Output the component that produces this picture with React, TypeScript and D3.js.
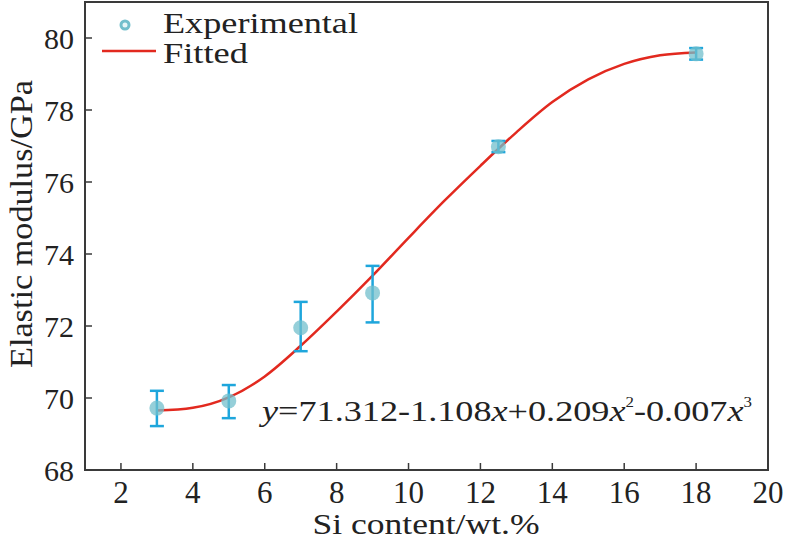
import React from "react";
import * as d3 from "d3";

// experimental points (Si wt.% -> modulus, with error bar ends)
const siContent = [3, 5, 7, 9, 12.5, 18];
const modulus = [69.72, 69.92, 71.95, 72.92, 76.98, 79.56];
const errLow = [69.22, 69.44, 71.3, 72.1, 76.83, 79.4];
const errHigh = [70.2, 70.36, 72.67, 73.67, 77.14, 79.72];

// fitted curve
const fitX = [3, 4, 5, 6, 7, 8, 9, 10, 11, 12, 13, 14, 15, 16, 17, 18];
const fitY = [69.65, 69.73, 70.02, 70.6, 71.45, 72.4, 73.4, 74.45, 75.48, 76.45, 77.38, 78.22, 78.85, 79.28, 79.52, 79.6];

const xTicks = [2, 4, 6, 8, 10, 12, 14, 16, 18, 20];
const yTicks = [68, 70, 72, 74, 76, 78, 80];

const W = 785;
const H = 541;
const left = 85;
const right = 768;
const top = 2;
const bottom = 470;

const font = "Liberation Serif";
const axisColor = "#3a3a3a";
const barColor = "#1ea6dc";
const pointColor = "#72bfcc";
const lineColor = "#e2291f";
const textColor = "#222";

export default function App() {
  const x = d3.scaleLinear().domain([1, 20]).range([left, right]);
  const y = d3.scaleLinear().domain([68, 81]).range([bottom, top]);

  const fitted = fitX.map((v, i) => ({ x: v, y: fitY[i] }));
  const line = d3
    .line<{ x: number; y: number }>()
    .x((d) => x(d.x))
    .y((d) => y(d.y))
    .curve(d3.curveMonotoneX);

  const cap = 7;
  const ts = { fontFamily: font };

  return (
    <svg
      width={W}
      height={H}
      style={{ position: "absolute", left: 0, top: 0, background: "#fff", fontFamily: font }}
    >
      {/* fitted line */}
      <path d={line(fitted) || ""} fill="none" stroke={lineColor} strokeWidth={2.5} />

      {/* error bars */}
      {siContent.map((s, i) => (
        <g key={"e" + i} stroke={barColor} strokeWidth={2.5}>
          <line x1={x(s)} x2={x(s)} y1={y(errLow[i])} y2={y(errHigh[i])} />
          <line x1={x(s) - cap} x2={x(s) + cap} y1={y(errLow[i])} y2={y(errLow[i])} />
          <line x1={x(s) - cap} x2={x(s) + cap} y1={y(errHigh[i])} y2={y(errHigh[i])} />
        </g>
      ))}

      {/* points */}
      {siContent.map((s, i) => (
        <circle key={"p" + i} cx={x(s)} cy={y(modulus[i])} r={7.5} fill={pointColor} opacity={0.75} />
      ))}

      {/* frame */}
      <rect x={left} y={top} width={right - left} height={bottom - top} fill="none" stroke={axisColor} strokeWidth={2} />

      {/* x axis */}
      {xTicks.map((t) => (
        <g key={"xt" + t}>
          <line x1={x(t)} x2={x(t)} y1={bottom} y2={bottom - 7} stroke={axisColor} strokeWidth={1.5} />
          <text x={x(t)} y={503} fontSize={31} textAnchor="middle" fill={textColor} style={ts}>
            {t}
          </text>
        </g>
      ))}

      {/* y axis */}
      {yTicks.map((t) => (
        <g key={"yt" + t}>
          <line x1={left} x2={left + 7} y1={y(t)} y2={y(t)} stroke={axisColor} strokeWidth={1.5} />
          <text x={74} y={y(t)} dy="0.35em" fontSize={30} textAnchor="end" fill={textColor} style={ts}>
            {t}
          </text>
        </g>
      ))}

      {/* axis titles */}
      <text x={426} y={534} fontSize={29} textAnchor="middle" fill={textColor} style={ts} textLength={227} lengthAdjust="spacingAndGlyphs">
        Si content/wt.%
      </text>
      <text
        transform="translate(32,224) rotate(-90)"
        fontSize={31}
        textAnchor="middle"
        fill={textColor}
        style={ts}
        textLength={288}
        lengthAdjust="spacingAndGlyphs"
      >
        Elastic modulus/GPa
      </text>

      {/* legend */}
      <circle cx={125} cy={25} r={4} fill="#e6f6f8" stroke={pointColor} strokeWidth={3} />
      <text x={163} y={33} fontSize={30} fill={textColor} style={ts} textLength={195} lengthAdjust="spacingAndGlyphs">
        Experimental
      </text>
      <line x1={102} x2={156} y1={51} y2={51} stroke={lineColor} strokeWidth={2.5} />
      <text x={163} y={63} fontSize={30} fill={textColor} style={ts} textLength={85} lengthAdjust="spacingAndGlyphs">
        Fitted
      </text>

      {/* equation */}
      <text x={262} y={421} fontSize={30} fill={textColor} style={ts} textLength={490} lengthAdjust="spacingAndGlyphs">
        <tspan fontStyle="italic">y</tspan>=71.312-1.108<tspan fontStyle="italic">x</tspan>+0.209
        <tspan fontStyle="italic">x</tspan>
        <tspan fontSize={14} dy={-14}>2</tspan>
        <tspan dy={14}>-0.007</tspan>
        <tspan fontStyle="italic">x</tspan>
        <tspan fontSize={14} dy={-14}>3</tspan>
      </text>
    </svg>
  );
}
